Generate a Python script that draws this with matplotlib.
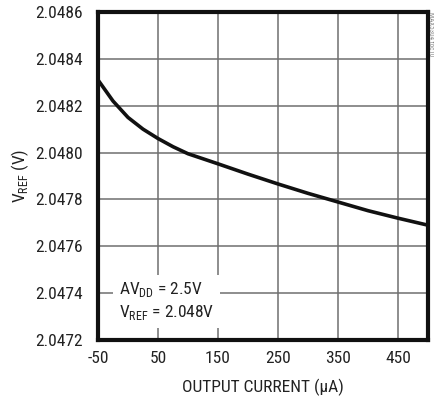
import matplotlib
matplotlib.use("Agg")
import matplotlib.pyplot as plt

plt.rcParams['font.family'] = ['Roboto Condensed', 'Liberation Sans', 'DejaVu Sans']
fs = 12.5

current = [-50, -25, 0, 25, 50, 75, 100, 150, 200, 250, 300, 350, 400, 450, 500]
vref = [2.04831, 2.04822, 2.04815, 2.04810, 2.04806, 2.048025, 2.047995, 2.047952,
        2.047908, 2.047866, 2.047826, 2.047789, 2.047752, 2.047720, 2.047690]
xticks = [-50, 50, 150, 250, 350, 450]
yticks = [2.0472, 2.0474, 2.0476, 2.0478, 2.0480, 2.0482, 2.0484, 2.0486]

fig = plt.figure(figsize=(4.34, 4.03), dpi=100)
ax = fig.add_axes([98/434, 63/403, 330/434, 328/403])
ax.plot(current, vref, color='#111111', lw=2.6, solid_capstyle='butt', zorder=3)
ax.set_xlim(-50, 500)
ax.set_ylim(2.0472, 2.0486)
ax.set_xticks(xticks)
ax.set_yticks(yticks)
ax.set_xticklabels([str(v) for v in xticks])
ax.set_yticklabels([f"{v:.4f}" for v in yticks])
ax.tick_params(length=0, labelsize=fs, colors='#222222')
ax.tick_params(axis='y', pad=11)
ax.tick_params(axis='x', pad=8)
ax.grid(True, color='#6f6f6f', lw=1.1)
for s in ax.spines.values():
    s.set_linewidth(3)
    s.set_color('#111111')
ax.set_xlabel('OUTPUT CURRENT (µA)', fontsize=fs, labelpad=9, color='#222222')
ax.set_ylabel('V$_{\\mathregular{REF}}$ (V)', fontsize=fs, labelpad=3, color='#222222')
ax.text(-15, 2.047277, 'AV$_{\\mathregular{DD}}$ = 2.5V\nV$_{\\mathregular{REF}}$ = 2.048V',
        fontsize=fs, color='#222222', ha='left', va='bottom', linespacing=1.25,
        bbox=dict(facecolor='white', edgecolor='none', pad=4), zorder=4)
fig.text(0.992, 0.97, 'MAX5304 toc10', rotation=-90, fontsize=5, color='#888888', ha='center', va='top')
fig.savefig('out.png', dpi=100)
